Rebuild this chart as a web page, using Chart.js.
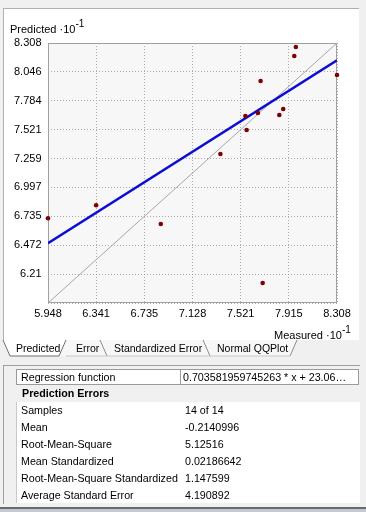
<!DOCTYPE html>
<html>
<head>
<meta charset="utf-8">
<script src="https://cdn.jsdelivr.net/npm/chart.js@4.4.1/dist/chart.umd.min.js"></script>
<style>
  body { margin: 0; width: 366px; height: 512px; background: #f0f0f0; position: relative; overflow: hidden;
         font-family: "Liberation Sans", Arial, sans-serif; color: #000; }
  .abs { position: absolute; white-space: nowrap; }
  .axt { font-size: 11px; line-height: 13px; }
  .axt sup { font-size: 10px; position: relative; top: -1px; }
  .cell { font-size: 10.7px; line-height: 17px; }
  #chart { position: absolute; left: 3px; top: 8px; }
</style>
</head>
<body>
<div class="abs" style="left:3px;top:8px;width:356px;height:332px;background:#fff;border-top:1px solid #b0b0b0;border-left:1px solid #b0b0b0;box-sizing:border-box"></div>
<canvas id="chart" width="356" height="332"></canvas>
<div class="abs axt" style="left:10px;top:18px">Predicted ·10<sup>-1</sup></div>
<div class="abs axt" style="left:274px;top:324px">Measured ·10<sup>-1</sup></div>

<svg class="abs" style="left:0;top:339px" width="366" height="20" font-family="Liberation Sans, Arial, sans-serif" font-size="10.5">
  <path d="M66 1 L296 1 L290 17 L59 17 Z" fill="#f7f7f7"/>
  <path d="M100 1 L107 17 M203 1 L210 17 M290 17 L297 1" stroke="#8c8c8c" fill="none"/>
  <path d="M66 17 L290 17" stroke="#c8c8c8" fill="none"/>
  <path d="M3 1 L10 17 L59 17 L66 1 Z" fill="#fff"/>
  <path d="M3 1 L10 17 L59 17 L66 1" stroke="#6e6e6e" fill="none"/>
  <text x="16" y="13">Predicted</text>
  <text x="76" y="13">Error</text>
  <text x="114" y="13">Standardized Error</text>
  <text x="217" y="13">Normal QQPlot</text>
</svg>

<div class="abs" style="left:3px;top:365px;width:357px;height:139px;border-top:1px solid #a0a0a0;border-left:1px solid #a0a0a0;box-sizing:border-box"></div>
<div class="abs" style="left:16px;top:402px;width:344px;height:101px;background:#fff;border-left:1px solid #c8c8c8;box-sizing:border-box"></div>
<div class="abs cell" style="left:16px;top:369px;width:165px;height:16px;line-height:14px;background:#fff;border:1px solid #9a9a9a;box-sizing:border-box;padding-left:4px">Regression function</div>
<div class="abs cell" style="left:180px;top:369px;width:179px;height:16px;line-height:14px;background:#fff;border:1px solid #9a9a9a;box-sizing:border-box;padding-left:2px">0.703581959745263 * x + 23.06…</div>
<div class="abs cell" style="left:22px;top:385px;font-weight:bold">Prediction Errors</div>
<div id="rows"></div>

<div class="abs" style="left:0;top:507px;width:366px;height:2px;background:#6a6a6a"></div>
<div class="abs" style="left:0;top:509px;width:366px;height:3px;background:#c4cad0"></div>

<script>
// scatter values, units of 10^-1
const measured  = [7.972, 7.959, 8.308, 7.684, 7.560, 7.662, 7.837, 7.869, 7.570, 7.356, 6.341, 5.948, 6.869, 7.701];
const predicted = [8.272, 8.190, 8.018, 7.963, 7.645, 7.673, 7.654, 7.709, 7.518, 7.300, 6.835, 6.717, 6.665, 6.130];

const xTicks = [5.948, 6.341, 6.735, 7.128, 7.521, 7.915, 8.308];
const yTicks = [5.948, 6.21, 6.472, 6.735, 6.997, 7.259, 7.521, 7.784, 8.046, 8.308];

// regression function from the table (intercept 23.06 -> 2.306 in 10^-1 units)
const regSlope = 0.703581959745263;
const regIntercept = 2.306;

const statLabels = ['Samples', 'Mean', 'Root-Mean-Square', 'Mean Standardized', 'Root-Mean-Square Standardized', 'Average Standard Error'];
const statValues = ['14 of 14', '-0.2140996', '5.12516', '0.02186642', '1.147599', '4.190892'];

const rows = document.getElementById('rows');
statLabels.forEach((label, i) => {
  const top = 402 + i * 17;
  rows.insertAdjacentHTML('beforeend',
    `<div class="abs cell" style="left:21px;top:${top}px">${label}</div>` +
    `<div class="abs cell" style="left:185px;top:${top}px">${statValues[i]}</div>`);
});

const xMin = xTicks[0], xMax = xTicks[xTicks.length - 1];
const points = measured.map((x, i) => ({ x, y: predicted[i] }));
const regLine = [xMin, xMax].map(x => ({ x, y: regSlope * x + regIntercept }));
const refLine = [xMin, xMax].map(x => ({ x, y: x }));

const font = { family: '"Liberation Sans", Arial, sans-serif', size: 11 };

const plotFrame = {
  id: 'plotFrame',
  beforeDraw(chart) {
    const { ctx, chartArea: a } = chart;
    ctx.save();
    ctx.fillStyle = '#f7f7f7';
    ctx.fillRect(a.left, a.top, a.right - a.left, a.bottom - a.top);
    ctx.restore();
  },
  beforeDatasetsDraw(chart) {
    const { ctx, chartArea: a } = chart;
    ctx.save();
    ctx.strokeStyle = '#a0a0a0';
    ctx.lineWidth = 1;
    ctx.strokeRect(a.left + 0.5, a.top + 0.5, a.right - a.left - 1, a.bottom - a.top - 1);
    ctx.restore();
  }
};

new Chart(document.getElementById('chart').getContext('2d'), {
  type: 'scatter',
  data: {
    datasets: [
      { data: points, pointRadius: 2.3, pointBackgroundColor: '#7e0000', pointBorderWidth: 0, clip: false },
      { data: regLine, showLine: true, borderColor: '#0c0cd4', borderWidth: 2.5, pointRadius: 0 },
      { data: refLine, showLine: true, borderColor: '#a6a6a6', borderWidth: 1, pointRadius: 0 }
    ]
  },
  options: {
    responsive: false,
    animation: false,
    devicePixelRatio: 1,
    layout: { padding: { left: 0, top: 35, right: 22, bottom: 0 } },
    plugins: { legend: { display: false }, tooltip: { enabled: false } },
    scales: {
      x: {
        type: 'linear', min: xMin, max: xMax,
        afterBuildTicks: a => { a.ticks = xTicks.map(v => ({ value: v })); },
        afterFit: s => { s.height = 37; },
        ticks: { color: '#000', font, padding: 4, maxRotation: 0, autoSkip: false, callback: v => String(v) },
        grid: { color: '#ababab', drawTicks: false },
        border: { display: false, dash: [1, 2] }
      },
      y: {
        type: 'linear', min: yTicks[0], max: yTicks[yTicks.length - 1],
        afterBuildTicks: a => { a.ticks = yTicks.map(v => ({ value: v })); },
        afterFit: s => { s.width = 45; },
        ticks: { color: '#000', font, padding: 6.5, autoSkip: false, callback: v => v === yTicks[0] ? '' : String(v) },
        grid: { color: '#ababab', drawTicks: false },
        border: { display: false, dash: [1, 2] }
      }
    }
  },
  plugins: [plotFrame]
});
</script>
</body>
</html>
